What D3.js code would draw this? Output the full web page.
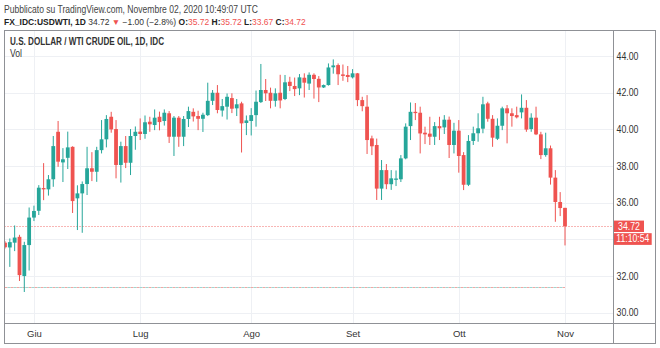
<!DOCTYPE html>
<html><head><meta charset="utf-8">
<script src="https://cdn.jsdelivr.net/npm/d3@7"></script>
<style>body{margin:0;background:#fff;} svg{display:block;font-family:"Liberation Sans",Arial,sans-serif}</style>
</head><body>
<svg id="c" width="660" height="348"></svg>
<script>
// ---------- DATA ----------
const firstDate = "2020-05-22", lastDate = "2020-11-02"; // daily trading sessions (weekdays)
const open  = [33.82,33.56,33.82,34.14,32.00,33.69,35.19,35.56,36.80,36.73,37.28,39.87,38.20,38.45,39.05,36.24,36.51,37.02,37.88,37.69,38.87,39.46,40.69,40.02,38.06,39.09,38.18,39.64,39.88,39.75,40.42,40.24,40.69,40.46,40.88,39.60,40.64,39.60,40.57,40.96,40.73,40.58,40.78,41.56,42.00,41.03,41.24,41.71,41.15,41.42,40.35,40.46,40.78,41.49,42.15,42.00,41.56,42.00,41.66,42.60,42.37,42.24,42.82,42.50,42.98,42.76,42.29,42.42,43.39,43.51,43.00,42.97,42.84,43.06,41.60,41.24,39.51,39.15,36.77,37.78,37.01,37.25,37.28,38.42,40.18,40.96,40.91,39.82,39.77,39.60,40.18,40.11,40.53,39.15,39.93,38.60,36.98,39.37,39.79,40.04,41.42,40.58,39.49,40.20,41.15,40.88,40.78,40.93,41.18,40.02,40.64,39.73,38.60,38.97,37.37,36.04,35.72];
const high  = [33.90,34.05,34.76,34.25,33.87,35.74,35.84,36.96,38.16,37.51,39.64,40.46,38.98,39.88,39.08,36.95,37.16,39.05,38.76,39.05,40.51,40.78,40.96,40.51,39.33,39.64,40.02,40.16,40.60,40.76,40.69,41.09,40.97,41.09,41.00,40.73,40.73,40.73,41.24,41.15,41.02,40.91,42.55,42.15,42.42,41.66,41.96,41.97,41.66,41.51,40.76,41.16,42.12,43.57,42.75,42.28,42.24,42.98,42.97,42.87,42.83,43.02,43.06,43.11,43.06,42.91,42.45,43.60,43.82,43.60,43.54,43.46,43.29,43.08,41.78,41.87,39.66,39.50,38.33,38.11,37.78,37.76,38.60,40.33,41.47,41.44,41.24,40.15,40.69,40.40,40.69,40.78,40.70,40.36,40.51,38.76,39.69,40.15,40.88,41.78,41.51,40.78,40.60,41.24,41.33,41.15,41.24,41.91,41.60,40.88,41.24,39.87,39.82,39.12,37.78,36.58,35.72];
const low   = [33.50,32.50,33.36,31.73,31.13,32.30,35.00,35.33,36.14,36.39,36.87,37.96,37.13,37.84,35.44,34.51,34.36,36.42,37.18,37.14,38.69,39.02,39.82,37.33,37.10,37.89,37.51,38.89,39.42,39.49,39.87,39.96,39.95,40.21,39.26,38.55,39.05,39.09,40.13,40.43,39.96,39.86,40.73,41.33,40.88,40.70,40.54,40.89,40.73,38.74,39.69,39.67,40.15,41.44,41.55,41.15,41.24,41.15,41.60,42.09,41.82,41.87,41.74,42.15,41.68,41.49,42.26,42.39,43.04,42.42,42.65,42.58,42.78,41.27,40.99,38.66,38.60,36.15,36.15,36.74,36.70,36.91,37.13,38.37,39.42,40.51,38.69,39.20,39.15,39.15,39.42,39.75,38.44,38.69,37.64,36.69,36.91,39.15,39.33,39.79,40.42,39.05,39.42,39.96,39.24,40.15,40.60,40.60,39.87,39.87,39.69,38.38,38.51,36.99,34.96,35.27,33.67];
const close = [33.57,33.85,34.10,32.05,33.69,35.19,35.55,36.82,36.73,37.28,39.09,38.24,38.37,39.02,36.09,36.51,37.02,37.88,37.69,38.87,39.46,40.57,40.00,38.06,39.09,38.18,39.64,39.87,39.75,40.39,40.28,40.64,40.40,40.91,39.60,40.64,39.60,40.57,41.00,40.71,40.58,40.80,41.56,42.00,41.06,41.27,41.78,41.13,41.37,40.33,40.49,40.78,41.51,42.15,41.97,41.56,41.97,41.58,42.57,42.37,42.20,42.84,42.55,42.98,42.75,42.29,42.42,43.38,43.49,43.01,42.92,42.86,43.06,41.60,41.27,39.42,39.08,36.77,37.78,37.01,37.33,37.32,38.42,40.15,40.96,40.89,39.78,39.73,39.60,40.18,40.06,40.53,39.15,39.93,38.55,36.98,39.37,39.79,40.06,41.37,40.58,39.55,40.20,41.15,40.88,40.73,40.66,41.18,39.99,40.64,39.73,38.60,38.97,37.37,36.04,35.71,34.72];
const monthTickDates  = ["2020-06-01","2020-07-01","2020-08-03","2020-09-01","2020-10-01","2020-11-02"];
const monthTickLabels = ["Giu","Lug","Ago","Set","Ott","Nov"];
const priceTicks = [30,32,34,36,38,40,42,44];
const lastPrice = 34.72, countdown = "11:10:54", refLevel = 31.38;
const headerLine = "Pubblicato su TradingView.com, Novembre 02, 2020 10:49:07 UTC";
const symbolText = "FX_IDC:USDWTI, 1D", changeText = "\u22121.00 (\u22122.8%)";
const ohlcLabels = ["O:","H:","L:","C:"], ohlcValues = ["35.72","35.72","33.67","34.72"];
const titleText = "U.S. DOLLAR / WTI CRUDE OIL, 1D, IDC", volText = "Vol";

// trading-day categories
const dates = [];
{ const fmt = d3.utcFormat("%Y-%m-%d");
  for (let d = new Date(firstDate+"T00:00:00Z"); d <= new Date(lastDate+"T00:00:00Z"); d = new Date(d.getTime()+864e5)) {
    const w = d.getUTCDay(); if (w !== 0 && w !== 6) dates.push(fmt(d)); } }
const candles = dates.map((d,i)=>({d, o:open[i], h:high[i], l:low[i], c:close[i]}));

// ---------- LAYOUT ----------
const UP = "#26a69a", DOWN = "#ef5350", GRID = "#eef0f4", FRAME = "#8f9196", TXT = "#333";
const frame = {l:4.5, t:30.5, r:655.5, b:343.5}, axisX = 613.5, axisY = 323.5;
const svg = d3.select("#c");

const x = d3.scalePoint().domain(dates).range([5, 565]);
const y = d3.scaleLinear().domain([30, 44]).range([312.7, 56.1]);

svg.append("clipPath").attr("id","plot").append("rect")
  .attr("x", frame.l).attr("y", frame.t).attr("width", axisX - frame.l).attr("height", axisY - frame.t);

const g = svg.append("g").attr("clip-path","url(#plot)");
g.selectAll(".hg").data(priceTicks).join("line")
  .attr("x1", frame.l).attr("x2", axisX).attr("y1", d=>Math.round(y(d))+0.5).attr("y2", d=>Math.round(y(d))+0.5)
  .attr("stroke", GRID);
g.selectAll(".vg").data(monthTickDates).join("line")
  .attr("x1", d=>Math.round(x(d))+0.5).attr("x2", d=>Math.round(x(d))+0.5).attr("y1", frame.t).attr("y2", axisY)
  .attr("stroke", GRID);

// reference dashed level
const refEnd = x(lastDate);
g.append("line").attr("x1", frame.l).attr("x2", refEnd).attr("y1", Math.round(y(refLevel))+0.5).attr("y2", Math.round(y(refLevel))+0.5)
  .attr("stroke", "#f3a5a3").attr("stroke-dasharray","3,3");
g.append("line").attr("x1", frame.l+3).attr("x2", refEnd).attr("y1", Math.round(y(refLevel))+0.5).attr("y2", Math.round(y(refLevel))+0.5)
  .attr("stroke", "#9fd6d0").attr("stroke-dasharray","3,3");

// last price dotted line
g.append("line").attr("x1", frame.l).attr("x2", axisX).attr("y1", Math.round(y(lastPrice))+0.5).attr("y2", Math.round(y(lastPrice))+0.5)
  .attr("stroke", DOWN).attr("stroke-opacity",0.85).attr("stroke-dasharray","1,2");

// candles
const cg = g.append("g");
cg.selectAll(".wick").data(candles).join("line")
  .attr("x1", d=>x(d.d)).attr("x2", d=>x(d.d)).attr("y1", d=>y(d.h)).attr("y2", d=>y(d.l))
  .attr("stroke", d=>d.c>=d.o?UP:DOWN).attr("stroke-width",1);
cg.selectAll(".body").data(candles).join("rect")
  .attr("x", d=>x(d.d)-1.9).attr("width", 3.8)
  .attr("y", d=>y(Math.max(d.o,d.c)))
  .attr("height", d=>Math.max(1.2, Math.abs(y(d.o)-y(d.c))))
  .attr("fill", d=>d.c>=d.o?UP:DOWN);

// frame & axes separators
svg.append("rect").attr("x", frame.l).attr("y", frame.t).attr("width", frame.r-frame.l).attr("height", frame.b-frame.t)
  .attr("fill","none").attr("stroke", FRAME);
svg.append("line").attr("x1", axisX).attr("x2", axisX).attr("y1", frame.t).attr("y2", frame.b).attr("stroke", FRAME);
svg.append("line").attr("x1", frame.l).attr("x2", frame.r).attr("y1", axisY).attr("y2", axisY).attr("stroke", FRAME);

// price axis labels (those hidden under the last-price tags are not drawn, as in the reference)
const ly = y(lastPrice);
const visibleTicks = priceTicks.filter(v => Math.abs(y(v) - (ly + 6.5)) > 14);
const yAxis = d3.axisRight(y).tickValues(visibleTicks).tickFormat(d3.format(".2f")).tickSize(0).tickPadding(3);
const ya = svg.append("g").attr("transform", `translate(${axisX},0)`).call(yAxis);
ya.select(".domain").remove();
ya.selectAll("text").attr("font-size", 10).attr("fill", TXT).attr("font-family","Liberation Sans, Arial, sans-serif")
  .attr("textLength", 22).attr("lengthAdjust","spacingAndGlyphs");

// time axis labels
const xAxis = d3.axisBottom(x).tickValues(monthTickDates).tickFormat((d,i)=>monthTickLabels[i]).tickSize(0).tickPadding(0);
const xa = svg.append("g").attr("transform", `translate(0,${axisY+7})`).call(xAxis);
xa.select(".domain").remove();
xa.selectAll("text").attr("font-size", 9.5).attr("fill", TXT).attr("font-family","Liberation Sans, Arial, sans-serif");

// last price tags
svg.append("rect").attr("x", 614).attr("y", ly-5.6).attr("width", 30).attr("height", 11.4).attr("fill", DOWN);
svg.append("text").attr("x", 629).attr("y", ly+3.5).attr("text-anchor","middle").attr("fill","#fff")
  .attr("font-size",10).attr("textLength",22).attr("lengthAdjust","spacingAndGlyphs").text(d3.format(".2f")(lastPrice));
svg.append("rect").attr("x", 614).attr("y", ly+7).attr("width", 37.7).attr("height", 11.7).attr("fill", DOWN);
svg.append("text").attr("x", 632.8).attr("y", ly+16.3).attr("text-anchor","middle").attr("fill","#fff")
  .attr("font-size",10).attr("textLength",33).attr("lengthAdjust","spacingAndGlyphs").text(countdown);

// header
svg.append("text").attr("x",4).attr("y",12.5).attr("font-size",11).attr("fill","#444")
  .attr("textLength",254).attr("lengthAdjust","spacingAndGlyphs").text(headerLine);

// second header line: one text, font size fitted to the reference width (no glyph squeezing)
const l2 = svg.append("text").attr("x",4).attr("y",25).attr("font-size",11);
l2.append("tspan").attr("font-weight","bold").attr("fill","#222").text(symbolText + " ");
l2.append("tspan").attr("fill","#333").text(d3.format(".2f")(lastPrice) + " ");
l2.append("tspan").attr("fill",DOWN).text("\u25BC");
l2.append("tspan").attr("fill","#333").text(" " + changeText + " ");
ohlcLabels.forEach((t,i)=>{
  l2.append("tspan").attr("font-weight","bold").attr("fill","#222").text(t);
  l2.append("tspan").attr("fill",DOWN).text(ohlcValues[i] + (i<3?" ":""));
});
{ const w = l2.node().getComputedTextLength(); l2.attr("font-size", (11*302/w).toFixed(2)); }

svg.append("text").attr("x",10).attr("y",45).attr("font-size",11).attr("font-weight","bold").attr("fill","#333")
  .attr("textLength",154).attr("lengthAdjust","spacingAndGlyphs").text(titleText);
svg.append("text").attr("x",10).attr("y",56.5).attr("font-size",11).attr("fill","#333")
  .attr("textLength",12).attr("lengthAdjust","spacingAndGlyphs").text(volText);
</script>
</body></html>
